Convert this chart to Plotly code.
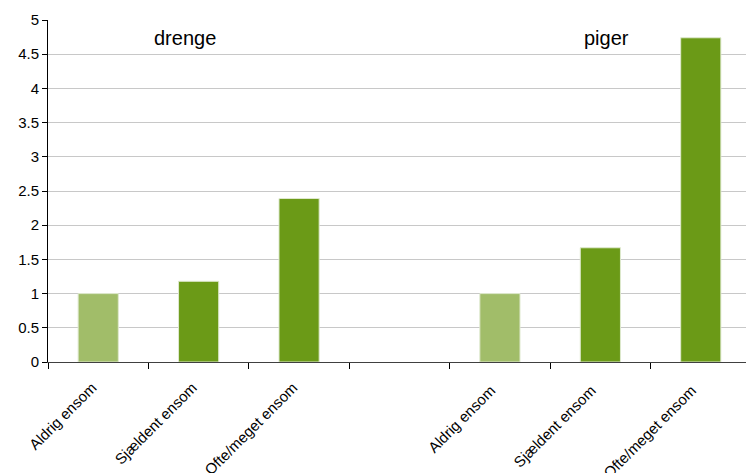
import plotly.graph_objects as go

# categories: boys group, blank spacer, girls group (trailing space keeps names unique)
categories = ["Aldrig ensom", "Sjældent ensom", "Ofte/meget ensom", " ",
              "Aldrig ensom ", "Sjældent ensom ", "Ofte/meget ensom "]
values = [1.0, 1.18, 2.39, None, 1.0, 1.67, 4.74]
bar_colors = ["#a1bd69", "#6b9a17", "#6b9a17", "#6b9a17", "#a1bd69", "#6b9a17", "#6b9a17"]
group_labels = ["drenge", "piger"]
group_label_x = [0.195, 0.794]

fig = go.Figure(go.Bar(
    x=categories, y=values,
    marker=dict(color=bar_colors, line=dict(color="#dfe9cf", width=1)),
    width=0.4,
))

for text, gx in zip(group_labels, group_label_x):
    fig.add_annotation(x=gx, xref="paper", xanchor="center", y=4.73, text=text,
                       showarrow=False, font=dict(size=20, color="#000000"))

# the page body adds an 8px offset, so the figure is 8px smaller than the window
fig.update_layout(
    width=746, height=465,
    margin=dict(l=40, r=3, t=12, b=111),
    paper_bgcolor="white", plot_bgcolor="white",
    font=dict(family="Liberation Sans, Arial, sans-serif", size=14, color="#000000"),
    showlegend=False,
    xaxis=dict(
        type="category", categoryorder="array", categoryarray=categories,
        tickangle=-45, tickson="boundaries", ticks="outside", ticklen=6,
        tickcolor="#000000", showline=True, linecolor="#404040", linewidth=1,
        showgrid=False, tickfont=dict(size=15), automargin=False,
        ticklabelstandoff=10, ticklabelshift=-6,
    ),
    yaxis=dict(
        range=[0, 5], dtick=0.5, ticks="outside", ticklen=5, tickcolor="#000000",
        showline=True, linecolor="#000000", linewidth=1,
        showgrid=True, gridcolor="#c8c8c8", gridwidth=1, zeroline=False,
        tickfont=dict(size=15), automargin=False,
    ),
)

fig.write_html("out.html")
